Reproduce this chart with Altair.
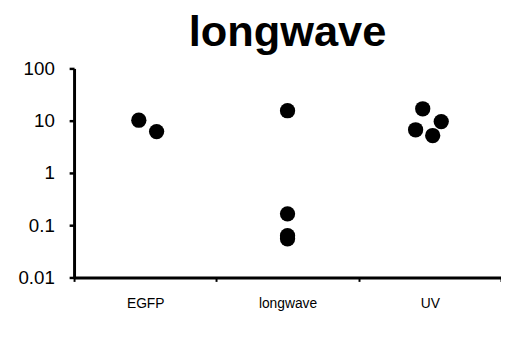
import altair as alt
import pandas as pd

categories = ["EGFP", "longwave", "UV"]
groups = ["EGFP", "EGFP", "longwave", "longwave", "longwave", "longwave", "UV", "UV", "UV", "UV"]
values = [10.2, 6.2, 15.5, 0.165, 0.063, 0.055, 16.9, 9.6, 6.7, 5.2]
jitter = [-0.045, 0.08, 0.0, 0.0, 0.0, 0.0, -0.05, 0.08, -0.10, 0.02]
y_ticks = [0.01, 0.1, 1, 10, 100]

df = pd.DataFrame({"group": groups, "value": values, "jitter": jitter})

font = "Liberation Sans"

chart = (
    alt.Chart(df, title=alt.Title("longwave", fontSize=44, font=font, fontWeight="bold", color="black", anchor="middle", offset=5))
    .mark_circle(size=240, color="black", opacity=1)
    .encode(
        x=alt.X("group:N", sort=categories, title=None,
                scale=alt.Scale(domain=categories, paddingInner=0, paddingOuter=0),
                axis=alt.Axis(labelAngle=0, tickBand="extent", domainColor="black", domainWidth=3,
                              tickColor="black", tickWidth=2, tickSize=4, labelFont=font,
                              labelFontSize=14, labelColor="black", labelPadding=15)),
        xOffset=alt.XOffset("jitter:Q", scale=alt.Scale(domain=[-0.5, 0.5])),
        y=alt.Y("value:Q", title=None,
                scale=alt.Scale(type="log", domain=[0.01, 100]),
                axis=alt.Axis(values=y_ticks, format="~g", grid=False, domainColor="black", domainWidth=3,
                              tickColor="black", tickWidth=2.5, tickSize=5, labelFont=font,
                              labelFontSize=19, labelColor="black", labelPadding=15)),
    )
    .properties(width=433, height=212, padding={"left": 67, "top": 59, "right": 0, "bottom": 50},
                autosize=alt.AutoSizeParams(type="none"))
    .configure_view(stroke=None)
)

chart.save("out.html", embed_options={"renderer": "svg", "actions": False})
